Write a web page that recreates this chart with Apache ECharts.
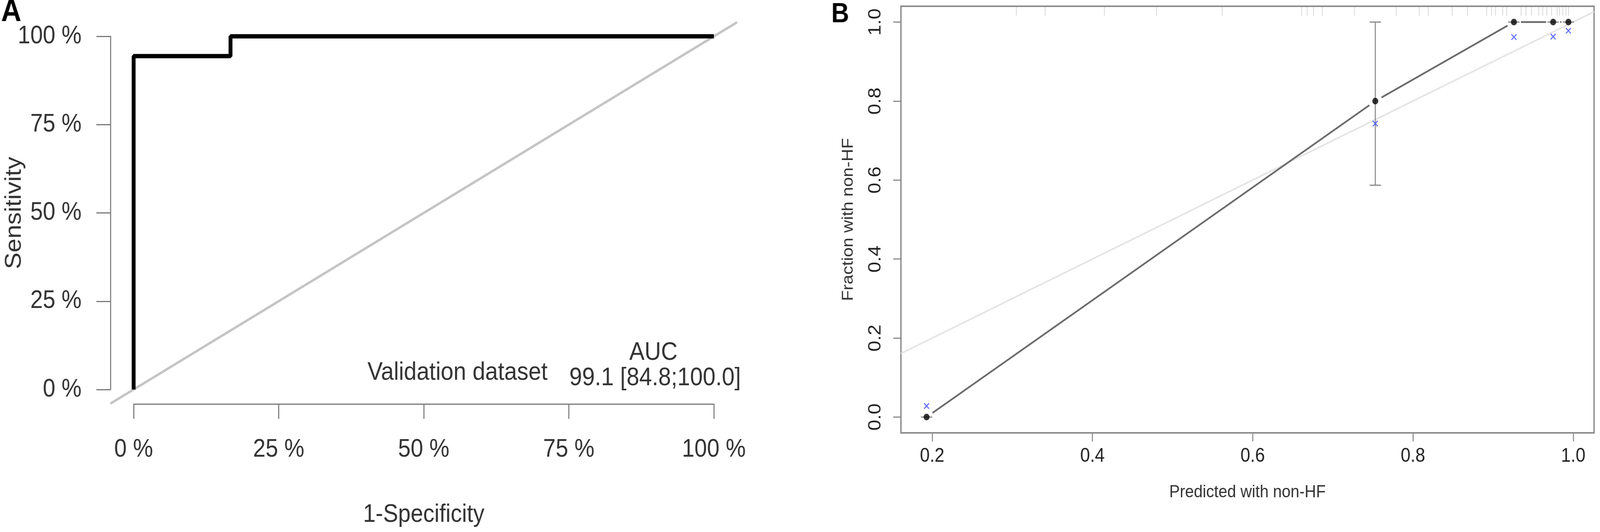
<!DOCTYPE html>
<html lang="en">
<head>
    <meta charset="UTF-8">
    <title>ROC and calibration</title>
    <script src="https://cdn.jsdelivr.net/npm/echarts@6/dist/echarts.min.js"></script>
    <style>
        html, body { margin: 0; background: #fff; overflow: hidden; }
        #main { width: 4550px; height: 1363px; transform-origin: 0 0; }
    </style>
</head>
<body>
    <div id="main"></div>
    <script type="text/javascript">
        // panel A: ROC curve
        var rocFpr = [0, 0, 0.167, 0.167, 1];
        var rocTpr = [0, 0.944, 0.944, 1, 1];
        var plotRangeA = [-0.04, 1.04];   // full plot region, the chance line spans it
        var aucHeader = 'AUC';
        var datasetName = 'Validation dataset';
        var aucText = '99.1 [84.8;100.0]';

        // panel B: calibration
        var predicted = [0.193, 0.753, 0.926, 0.975, 0.994];
        var observed = [0, 0.80, 1, 1, 1];
        var ciLow = [0, 0.587, 1, 1, 1];
        var ciHigh = [0, 1, 1, 1, 1];
        var apparent = [0.028, 0.743, 0.962, 0.963, 0.978];
        var rugB = [0.305, 0.341, 0.415, 0.48, 0.562, 0.661, 0.668, 0.676, 0.687, 0.727, 0.779,
            0.808, 0.819, 0.849, 0.868, 0.892, 0.898, 0.903, 0.912, 0.917, 0.935, 0.941, 0.948,
            0.957, 0.962, 0.967, 0.973, 0.98, 0.983, 0.987, 0.991, 0.994];
        var xTicksB = [0.2, 0.4, 0.6, 0.8, 1.0];
        var yTicksB = [0, 0.2, 0.4, 0.6, 0.8, 1.0];
        var xRangeB = [0.161, 1.026];
        var yRangeB = [-0.04, 1.04];

        var FONT = '"Liberation Sans", Arial, sans-serif';

        // the window can be narrower than the 4550px figure: squeeze it to fit
        var el = document.getElementById('main');
        var sx = Math.min(1, window.innerWidth / 4550);
        el.style.transform = 'scale(' + sx + ', 1)';

        var myChart = echarts.init(el);

        var axisGrayA = { color: '#7a7a7a', width: 3 };
        var axisGrayB = { color: '#8c8c8c', width: 3 };
        var hiddenAxis = { show: false };

        var option = {
            backgroundColor: '#fff',
            animation: false,
            grid: [
                { left: 380, top: 93, width: 1650, height: 905 },
                { left: 2562, top: 16, width: 1971, height: 1093, show: true,
                  borderColor: '#8c8c8c', borderWidth: 4 },
                // whole plot region of A (axes are drawn inset, R style)
                { left: 314, top: 57, width: 1782, height: 977 }
            ],
            xAxis: [{
                type: 'value', gridIndex: 0, min: 0, max: 1, interval: 0.25, offset: 37,
                axisLine: { show: true, onZero: false, lineStyle: axisGrayA },
                axisTick: { show: true, length: 38, lineStyle: axisGrayA },
                splitLine: { show: false },
                axisLabel: {
                    formatter: function (v) { return Math.round(v * 100) + ' %'; },
                    fontSize: 64, fontFamily: FONT, color: '#333', margin: 117, verticalAlign: 'middle'
                },
                name: '1-Specificity', nameLocation: 'middle', nameGap: 284, nameMoveOverlap: false,
                nameTextStyle: { fontSize: 64, fontFamily: FONT, color: '#333', verticalAlign: 'middle' }
            }, {
                type: 'value', gridIndex: 1, min: xRangeB[0], max: xRangeB[1],
                axisLine: { show: false, onZero: false },
                axisTick: { show: true, length: 22, lineStyle: axisGrayB, customValues: xTicksB },
                splitLine: { show: false },
                axisLabel: {
                    customValues: xTicksB,
                    formatter: function (v) { return v.toFixed(1); },
                    fontSize: 50, fontFamily: FONT, color: '#222', margin: 60, verticalAlign: 'middle'
                },
                name: 'Predicted with non-HF', nameLocation: 'middle', nameGap: 153, nameMoveOverlap: false,
                nameTextStyle: { fontSize: 45, fontFamily: FONT, color: '#333', verticalAlign: 'middle' }
            }, {
                type: 'value', gridIndex: 2, min: plotRangeA[0], max: plotRangeA[1], show: false,
                axisLine: hiddenAxis, axisTick: hiddenAxis, axisLabel: hiddenAxis, splitLine: hiddenAxis
            }],
            yAxis: [{
                type: 'value', gridIndex: 0, min: 0, max: 1, interval: 0.25, offset: 66,
                axisLine: { show: true, onZero: false, lineStyle: axisGrayA },
                axisTick: { show: true, length: 40, lineStyle: axisGrayA },
                splitLine: { show: false },
                axisLabel: {
                    formatter: function (v) { return Math.round(v * 100) + ' %'; },
                    fontSize: 64, fontFamily: FONT, color: '#333', margin: 82, align: 'right'
                },
                name: 'Sensitivity', nameLocation: 'middle', nameRotate: 90, nameGap: 273, nameMoveOverlap: false,
                nameTextStyle: { fontSize: 64, fontFamily: FONT, color: '#333',
                                 align: 'center', verticalAlign: 'middle' }
            }, {
                type: 'value', gridIndex: 1, min: yRangeB[0], max: yRangeB[1],
                axisLine: { show: false, onZero: false },
                axisTick: { show: true, length: 22, lineStyle: axisGrayB, customValues: yTicksB },
                splitLine: { show: false },
                axisLabel: {
                    customValues: yTicksB, rotate: 90,
                    formatter: function (v) { return v.toFixed(1); },
                    fontSize: 50, fontFamily: FONT, color: '#222', margin: 72,
                    align: 'center', verticalAlign: 'middle'
                },
                name: 'Fraction with non-HF', nameLocation: 'middle', nameRotate: 90, nameGap: 149, nameMoveOverlap: false,
                nameTextStyle: { fontSize: 45, fontFamily: FONT, color: '#333',
                                 align: 'center', verticalAlign: 'middle' }
            }, {
                type: 'value', gridIndex: 2, min: plotRangeA[0], max: plotRangeA[1], show: false,
                axisLine: hiddenAxis, axisTick: hiddenAxis, axisLabel: hiddenAxis, splitLine: hiddenAxis
            }],
            graphic: [
                { type: 'text', x: 3, y: 32, style: { text: 'A', font: 'bold 80px ' + FONT, fill: '#000', align: 'left', verticalAlign: 'middle' } },
                { type: 'text', x: 2364, y: 38, style: { text: 'B', font: 'bold 70px ' + FONT, fill: '#000', align: 'left', verticalAlign: 'middle' } },
                { type: 'text', x: 1858, y: 904, style: { text: aucHeader, font: '65px ' + FONT, fill: '#333', align: 'center', verticalAlign: 'middle' } },
                { type: 'text', x: 1045, y: 955, style: { text: datasetName, font: '65px ' + FONT, fill: '#333', align: 'left', verticalAlign: 'middle' } },
                { type: 'text', x: 1619, y: 969, style: { text: aucText, font: '65px ' + FONT, fill: '#333', align: 'left', verticalAlign: 'middle' } }
            ],
            series: [
                {
                    name: 'chance', type: 'line', xAxisIndex: 2, yAxisIndex: 2,
                    symbol: 'none', z: 1,
                    lineStyle: { color: '#c4c4c4', width: 6 },
                    data: [[plotRangeA[0], plotRangeA[0]], [plotRangeA[1], plotRangeA[1]]]
                },
                {
                    name: 'ROC', type: 'line', xAxisIndex: 0, yAxisIndex: 0, clip: false,
                    symbol: 'none', z: 2,
                    lineStyle: { color: '#000', width: 11 },
                    data: rocFpr.map(function (x, i) { return [x, rocTpr[i]]; })
                },
                {
                    name: 'ideal', type: 'line', xAxisIndex: 1, yAxisIndex: 1,
                    symbol: 'none', z: 1,
                    lineStyle: { color: '#e4e4e4', width: 4 },
                    data: [[xRangeB[0], xRangeB[0]], [xRangeB[1], xRangeB[1]]]
                },
                {
                    name: 'rug', type: 'custom', xAxisIndex: 1, yAxisIndex: 1, z: 1,
                    data: rugB.map(function (x) { return [x, yRangeB[1]]; }),
                    renderItem: function (params, api) {
                        var p = api.coord([api.value(0), api.value(1)]);
                        return { type: 'line', shape: { x1: p[0], y1: p[1] + 2, x2: p[0], y2: p[1] + 24 },
                                 style: { stroke: '#d4d4d4', lineWidth: 2 } };
                    }
                },
                {
                    name: 'calibration line', type: 'custom', xAxisIndex: 1, yAxisIndex: 1, z: 2,
                    data: predicted.map(function (x, i) { return [x, observed[i], i]; }),
                    renderItem: function (params, api) {
                        var i = params.dataIndex;
                        if (i >= predicted.length - 1) return;
                        var a = api.coord([predicted[i], observed[i]]);
                        var b = api.coord([predicted[i + 1], observed[i + 1]]);
                        var dx = b[0] - a[0], dy = b[1] - a[1];
                        var len = Math.sqrt(dx * dx + dy * dy);
                        var gap = 20;
                        if (len <= gap * 2) return;
                        var ux = dx / len, uy = dy / len;
                        return { type: 'line',
                                 shape: { x1: a[0] + ux * gap, y1: a[1] + uy * gap, x2: b[0] - ux * gap, y2: b[1] - uy * gap },
                                 style: { stroke: '#6a6a6a', lineWidth: 4.5 } };
                    }
                },
                {
                    name: 'ci', type: 'custom', xAxisIndex: 1, yAxisIndex: 1, z: 3,
                    data: predicted.map(function (x, i) { return [x, ciLow[i], ciHigh[i]]; }),
                    renderItem: function (params, api) {
                        var lo = api.coord([api.value(0), api.value(1)]);
                        var hi = api.coord([api.value(0), api.value(2)]);
                        var w = 16;
                        var st = { stroke: '#8a8a8a', lineWidth: 3 };
                        return { type: 'group', children: [
                            { type: 'line', shape: { x1: lo[0], y1: lo[1], x2: hi[0], y2: hi[1] }, style: st },
                            { type: 'line', shape: { x1: lo[0] - w, y1: lo[1], x2: lo[0] + w, y2: lo[1] }, style: st },
                            { type: 'line', shape: { x1: hi[0] - w, y1: hi[1], x2: hi[0] + w, y2: hi[1] }, style: st }
                        ] };
                    }
                },
                {
                    name: 'observed', type: 'scatter', xAxisIndex: 1, yAxisIndex: 1, z: 4,
                    symbol: 'circle', symbolSize: 17,
                    itemStyle: { color: '#000' },
                    data: predicted.map(function (x, i) { return [x, observed[i]]; })
                },
                {
                    name: 'apparent', type: 'scatter', xAxisIndex: 1, yAxisIndex: 1, z: 4,
                    symbol: 'path://M0,0L10,10M10,0L0,10', symbolSize: 14,
                    itemStyle: { color: 'rgba(0,0,0,0)', borderColor: '#3f50ff', borderWidth: 3 },
                    data: predicted.map(function (x, i) { return [x, apparent[i]]; })
                }
            ]
        };

        myChart.setOption(option);
    </script>
</body>
</html>
